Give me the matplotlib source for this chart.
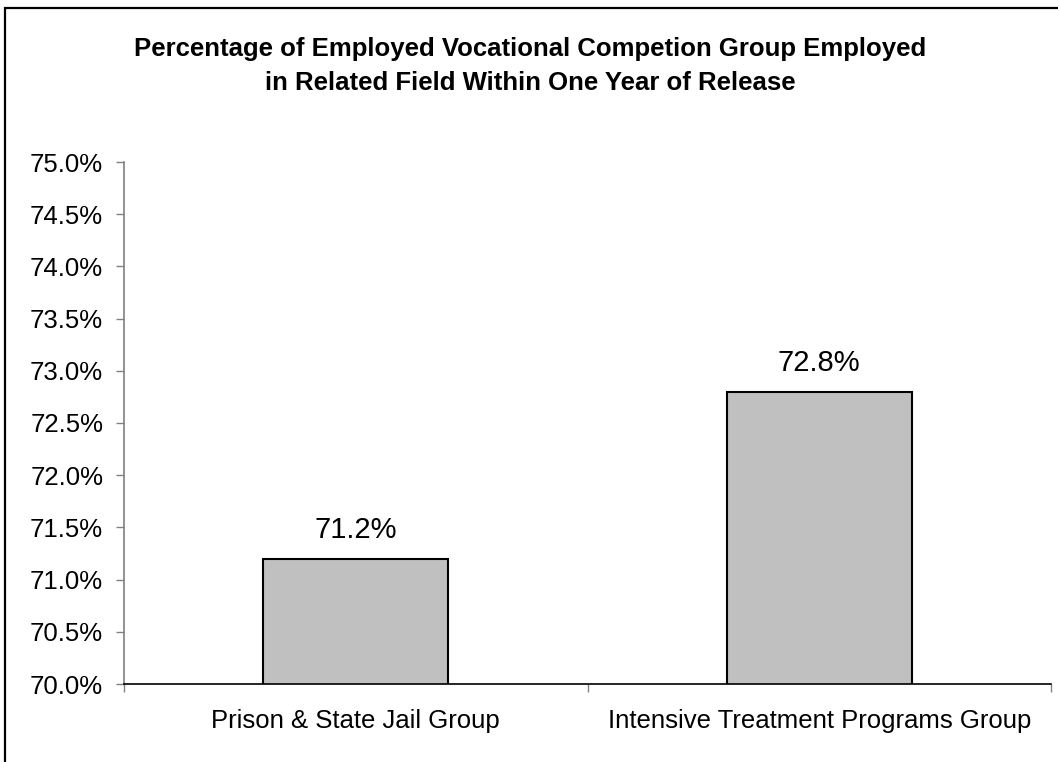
import matplotlib
matplotlib.use("Agg")
import matplotlib.pyplot as plt
from matplotlib.patches import Rectangle
from matplotlib.ticker import FuncFormatter, FixedLocator

plt.rcParams['font.family'] = ['Liberation Sans', 'DejaVu Sans']

categories = ["Prison & State Jail Group", "Intensive Treatment Programs Group"]
values = [71.2, 72.8]
value_labels = ["71.2%", "72.8%"]
title = ("Percentage of Employed Vocational Competion Group Employed\n"
         "in Related Field Within One Year of Release")

W, H = 1058, 762
fig = plt.figure(figsize=(W / 100, H / 100), dpi=100)

# Outer frame of the chart area
fig.patches.append(Rectangle((5 / W, -0.05), 1.1, 1 - 8 / H + 0.05,
                             transform=fig.transFigure, fill=False,
                             edgecolor="#000000", linewidth=1.6))

left, right, top, bottom = 124, 1051, 162, 684
ax = fig.add_axes([left / W, (H - bottom) / H, (right - left) / W, (bottom - top) / H])

x = list(range(len(categories)))
ax.bar(x, values, width=0.40, color="#c0c0c0", edgecolor="#000000",
       linewidth=1.5, bottom=0, zorder=2)

for xi, v, lab in zip(x, values, value_labels):
    ax.annotate(lab, (xi, v), xytext=(0, 10.5), textcoords="offset points",
                ha="center", va="bottom", fontsize=21)

ax.set_xlim(-0.5, len(categories) - 0.5)
ax.set_ylim(70.0, 75.0)
ax.set_yticks([70 + 0.5 * i for i in range(11)])
ax.yaxis.set_major_formatter(FuncFormatter(lambda v, p: f"{v:.1f}%"))

ax.set_xticks(x)
ax.set_xticklabels(categories)
ax.xaxis.set_minor_locator(FixedLocator([i - 0.5 for i in range(len(categories) + 1)]))

ax.tick_params(axis="x", which="major", length=0, pad=18, labelsize=18.5)
ax.tick_params(axis="x", which="minor", length=6, width=1, color="#808080", direction="out")
ax.tick_params(axis="y", which="major", length=6, width=1, color="#808080",
               direction="out", pad=9, labelsize=18.5)

for s in ("top", "right"):
    ax.spines[s].set_visible(False)
ax.spines["left"].set_color("#808080")
ax.spines["left"].set_linewidth(1.2)
ax.spines["bottom"].set_color("#000000")
ax.spines["bottom"].set_linewidth(1.2)

fig.text(530 / W, 1 - 66 / H, title, ha="center", va="center",
         fontsize=18.5, fontweight="bold", linespacing=1.5)

fig.savefig("out.png", dpi=100)
